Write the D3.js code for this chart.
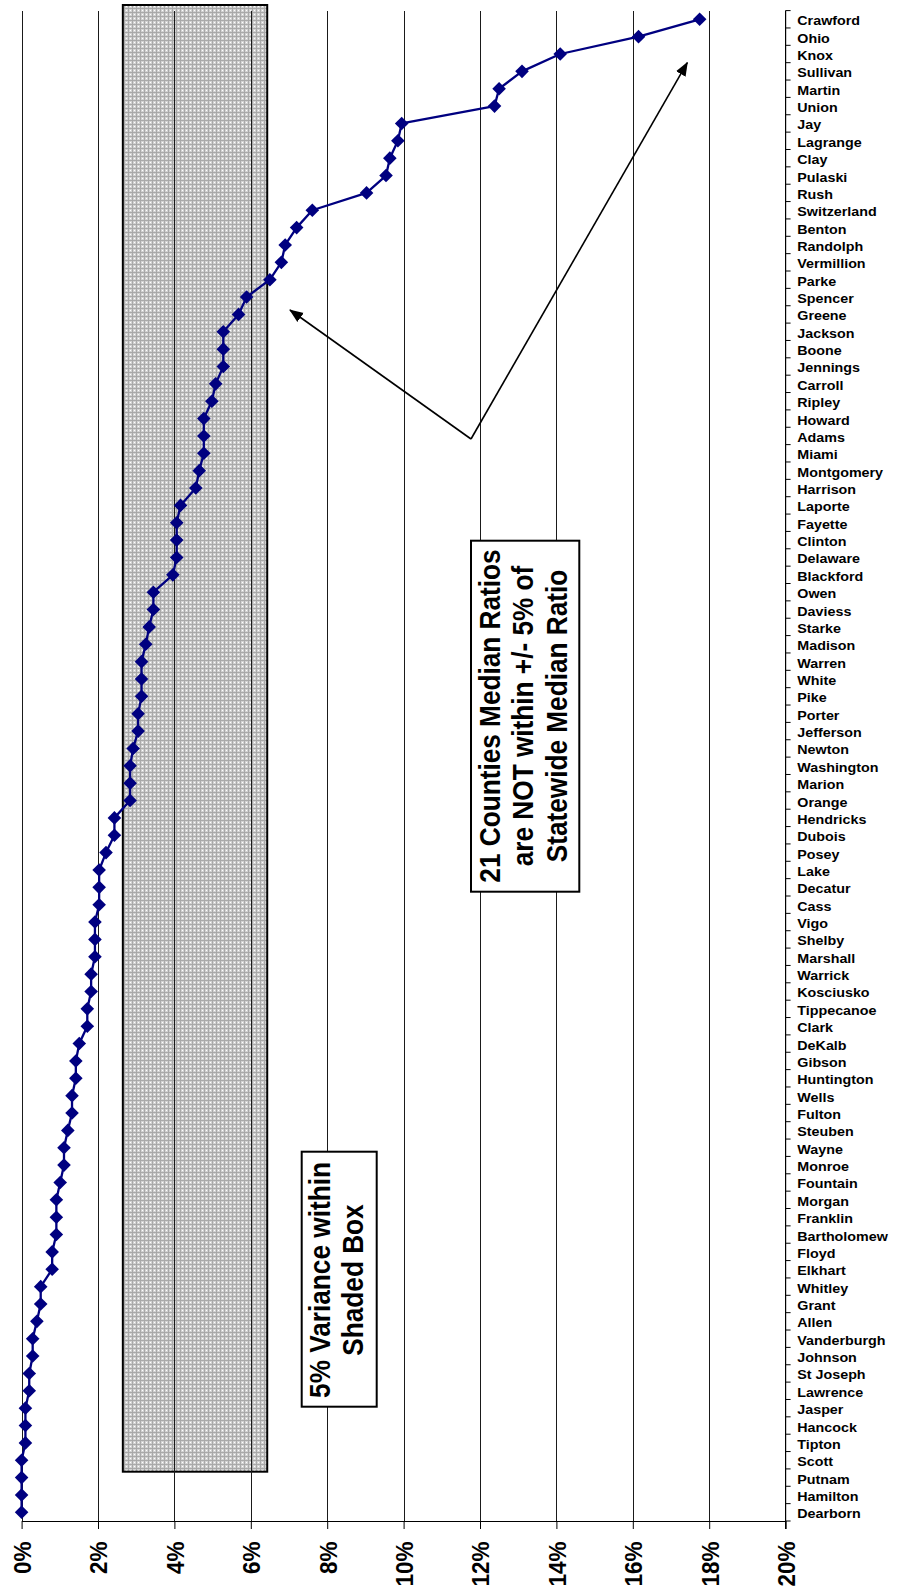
<!DOCTYPE html>
<html>
<head>
<meta charset="utf-8">
<script src="https://cdn.jsdelivr.net/npm/d3@7"></script>
<style>
  body { margin: 0; background: #fff; }
  svg { display: block; }
  text { font-family: "Liberation Sans", Arial, sans-serif; font-weight: bold; fill: #000; }
</style>
</head>
<body>
<script>
// County names, top to bottom (largest variance first)
const counties = [
  "Crawford", "Ohio", "Knox", "Sullivan", "Martin", "Union", "Jay", "Lagrange",
  "Clay", "Pulaski", "Rush", "Switzerland", "Benton", "Randolph", "Vermillion",
  "Parke", "Spencer", "Greene", "Jackson", "Boone", "Jennings", "Carroll",
  "Ripley", "Howard", "Adams", "Miami", "Montgomery", "Harrison", "Laporte",
  "Fayette", "Clinton", "Delaware", "Blackford", "Owen", "Daviess", "Starke",
  "Madison", "Warren", "White", "Pike", "Porter", "Jefferson", "Newton",
  "Washington", "Marion", "Orange", "Hendricks", "Dubois", "Posey", "Lake",
  "Decatur", "Cass", "Vigo", "Shelby", "Marshall", "Warrick", "Kosciusko",
  "Tippecanoe", "Clark", "DeKalb", "Gibson", "Huntington", "Wells", "Fulton",
  "Steuben", "Wayne", "Monroe", "Fountain", "Morgan", "Franklin", "Bartholomew",
  "Floyd", "Elkhart", "Whitley", "Grant", "Allen", "Vanderburgh", "Johnson",
  "St Joseph", "Lawrence", "Jasper", "Hancock", "Tipton", "Scott", "Putnam",
  "Hamilton", "Dearborn"
];

// Variance of each county median ratio from the statewide median ratio (%)
const variance = [
  17.75, 16.15, 14.10, 13.10, 12.50, 12.38, 9.95, 9.85,
  9.64, 9.54, 9.03, 7.61, 7.20, 6.90, 6.80,
  6.50, 5.89, 5.68, 5.28, 5.28, 5.28, 5.08,
  4.98, 4.77, 4.77, 4.77, 4.65, 4.56, 4.16,
  4.06, 4.06, 4.06, 3.96, 3.45, 3.45, 3.34,
  3.25, 3.14, 3.14, 3.14, 3.05, 3.05, 2.92,
  2.84, 2.84, 2.84, 2.43, 2.43, 2.21, 2.03,
  2.03, 2.03, 1.92, 1.92, 1.92, 1.82, 1.82,
  1.72, 1.72, 1.51, 1.42, 1.42, 1.32, 1.32,
  1.21, 1.11, 1.11, 1.01, 0.91, 0.91, 0.91,
  0.80, 0.80, 0.50, 0.50, 0.40, 0.29, 0.29,
  0.20, 0.20, 0.10, 0.10, 0.10, 0.00, 0.00,
  0.00, 0.00
];

// Value axis ticks (%)
const xTicks = [0, 2, 4, 6, 8, 10, 12, 14, 16, 18, 20];

// Shaded band: +/- 5% of statewide median ratio
const bandRange = [2.65, 6.43];

const noteVariance = ["5% Variance within", "Shaded Box"];
const noteCounties = ["21 Counties Median Ratios", "are NOT within +/- 5% of", "Statewide Median Ratio"];

const W = 906, H = 1589;
const plot = { left: 21.6, right: 785.6, top: 10.6, bottom: 1521 };
const stretch = 1.1; // text is drawn slightly wide

const svg = d3.select("body").append("svg").attr("width", W).attr("height", H);

const defs = svg.append("defs");
const pat = defs.append("pattern")
  .attr("id", "dots").attr("patternUnits", "userSpaceOnUse")
  .attr("width", 4).attr("height", 4);
pat.append("rect").attr("width", 4).attr("height", 4).attr("fill", "#d2d2d2");
pat.append("rect").attr("width", 4).attr("height", 1).attr("fill", "#a9a9a9");
pat.append("rect").attr("width", 1).attr("height", 4).attr("fill", "#a9a9a9");
pat.append("rect").attr("x", 2).attr("y", 2).attr("width", 1).attr("height", 1).attr("fill", "#ffffff");

defs.append("marker")
  .attr("id", "head").attr("markerUnits", "userSpaceOnUse")
  .attr("viewBox", "0 -6 14 12").attr("refX", 13).attr("refY", 0)
  .attr("markerWidth", 14).attr("markerHeight", 12).attr("orient", "auto")
  .append("path").attr("d", "M0,-5.5L14,0L0,5.5Z").attr("fill", "#000");

const x = d3.scaleLinear().domain([0, 20]).range([plot.left, plot.right]);
const y = d3.scaleBand().domain(counties).range([plot.top, plot.bottom]).padding(0);
const yc = c => y(c) + y.bandwidth() / 2;

// Shaded band
svg.append("rect")
  .attr("x", x(bandRange[0])).attr("y", 5)
  .attr("width", x(bandRange[1]) - x(bandRange[0]))
  .attr("height", 1471.7 - 5)
  .attr("fill", "url(#dots)").attr("stroke", "#000").attr("stroke-width", 2);

// Vertical gridlines
svg.append("g").selectAll("line")
  .data(xTicks.filter(t => t < 20))
  .join("line")
  .attr("x1", d => Math.round(x(d)) + 0.5).attr("x2", d => Math.round(x(d)) + 0.5)
  .attr("y1", plot.top).attr("y2", plot.bottom)
  .attr("stroke", "#1a1a1a").attr("stroke-width", 1).attr("shape-rendering", "crispEdges");

// Bottom value axis
const xAxis = d3.axisBottom(x).tickValues(xTicks).tickSize(8).tickSizeOuter(0)
  .tickFormat(d => d + "%");
const gx = svg.append("g").attr("transform", `translate(0,${plot.bottom})`).call(xAxis);
gx.select(".domain").attr("stroke", "#000").attr("stroke-width", 1.2);
gx.selectAll(".tick line").attr("stroke", "#000");
gx.selectAll(".tick text")
  .attr("font-size", 22.5).attr("font-weight", "bold")
  .attr("font-family", "Liberation Sans, Arial, sans-serif")
  .attr("text-anchor", "end").attr("dy", null).attr("y", null)
  .attr("transform", `translate(8.8,20.5) scale(${stretch},1) rotate(-90)`);

// Right category axis: line, boundary ticks, labels
const gy = svg.append("g");
gy.append("line")
  .attr("x1", plot.right).attr("x2", plot.right)
  .attr("y1", plot.top).attr("y2", plot.bottom + 8)
  .attr("stroke", "#000").attr("stroke-width", 1.2);
gy.selectAll("line.tk")
  .data(counties.concat(["__end"]))
  .join("line").attr("class", "tk")
  .attr("x1", plot.right).attr("x2", plot.right + 5)
  .attr("y1", (d, i) => plot.top + i * y.bandwidth())
  .attr("y2", (d, i) => plot.top + i * y.bandwidth())
  .attr("stroke", "#000").attr("stroke-width", 1);
gy.selectAll("text")
  .data(counties)
  .join("text")
  .attr("transform", d => `translate(797.3,${yc(d) + 6}) scale(${stretch},1)`)
  .attr("font-size", 13)
  .text(d => d);

// Series line and diamond markers
const pts = counties.map((c, i) => ({ c, v: variance[i] }));
svg.append("path")
  .datum(pts)
  .attr("fill", "none").attr("stroke", "#000080").attr("stroke-width", 2.3)
  .attr("stroke-linejoin", "round")
  .attr("d", d3.line().x(d => x(d.v)).y(d => yc(d.c)));
svg.append("g").selectAll("path")
  .data(pts)
  .join("path")
  .attr("transform", d => `translate(${x(d.v)},${yc(d.c)})`)
  .attr("d", "M0,-6.8L6.8,0L0,6.8L-6.8,0Z")
  .attr("fill", "#000080");

// Arrows from the note to the out-of-band counties
const arrowStart = [471, 439];
[[290, 310], [687.3, 62.7]].forEach(end => {
  svg.append("line")
    .attr("x1", arrowStart[0]).attr("y1", arrowStart[1])
    .attr("x2", end[0]).attr("y2", end[1])
    .attr("stroke", "#000").attr("stroke-width", 1.6)
    .attr("marker-end", "url(#head)");
});

// Text boxes
function note(box, lines, baselines, cy) {
  const g = svg.append("g");
  g.append("rect")
    .attr("x", box[0]).attr("y", box[1])
    .attr("width", box[2] - box[0]).attr("height", box[3] - box[1])
    .attr("fill", "#fff").attr("stroke", "#000").attr("stroke-width", 2);
  lines.forEach((t, i) => {
    g.append("text")
      .attr("transform", `translate(${baselines[i]},${cy}) scale(${stretch},1) rotate(-90)`)
      .attr("text-anchor", "middle")
      .attr("font-size", 26.2)
      .text(t);
  });
}
note([301.7, 1151.7, 376.7, 1406.7], noteVariance, [330, 363.3], 1280);
note([471, 540.7, 579.3, 891.7], noteCounties, [500, 533.4, 567.3], 716);
</script>
</body>
</html>
